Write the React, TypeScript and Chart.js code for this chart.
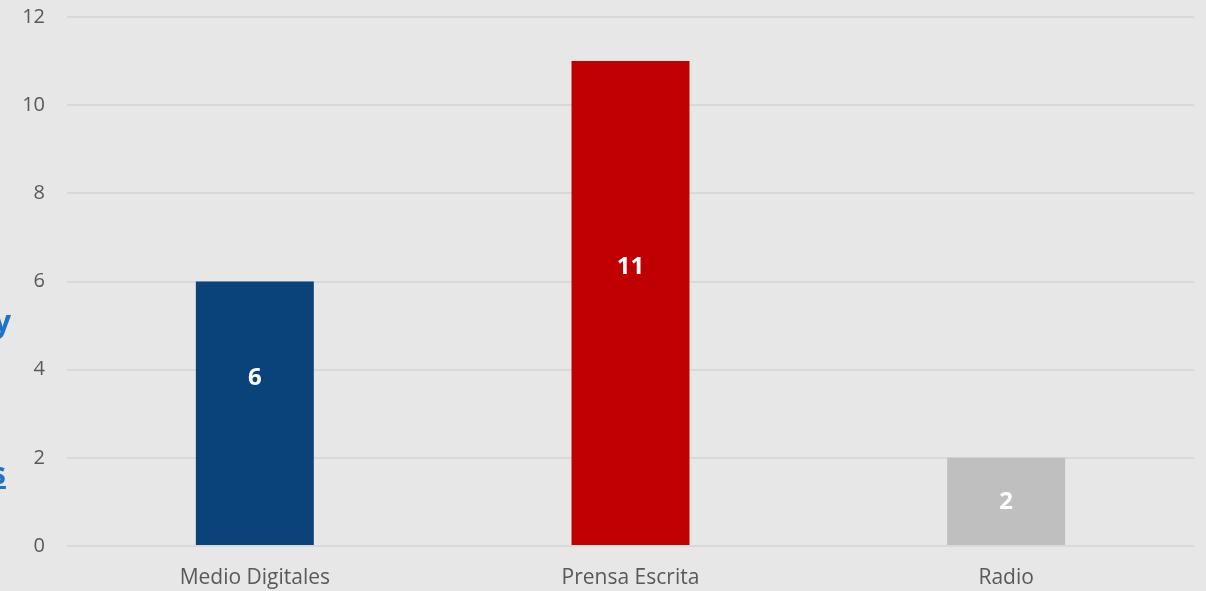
import React, { useEffect, useRef } from "react";
import { Chart, registerables } from "chart.js";

Chart.register(...registerables);

const categories = ["Medio Digitales", "Prensa Escrita", "Radio"];
const values = [6, 11, 2];
const barColors = ["#0a4379", "#c00000", "#bfbfbf"];
const labelAnchors = [3.8, 6.33, 1];
const yTicks = [0, 2, 4, 6, 8, 10, 12];

const FONT = "'Open Sans', 'Noto Sans', sans-serif";

const valueLabels = {
  id: "valueLabels",
  afterDatasetsDraw(chart: any) {
    const ctx = chart.ctx;
    const meta = chart.getDatasetMeta(0);
    const yScale = chart.scales.y;
    ctx.save();
    ctx.fillStyle = "#ffffff";
    ctx.font = `bold 24px ${FONT}`;
    ctx.textAlign = "center";
    ctx.textBaseline = "middle";
    meta.data.forEach((bar: any, i: number) => {
      ctx.fillText(String(values[i]), bar.x, yScale.getPixelForValue(labelAnchors[i]));
    });
    ctx.restore();
  },
};

export default function App() {
  const ref = useRef<HTMLCanvasElement>(null);
  useEffect(() => {
    document.body.style.margin = "0";
    document.body.style.background = "#e7e7e7";
    const chart = new Chart(ref.current!, {
      type: "bar",
      data: {
        labels: categories,
        datasets: [
          {
            data: values,
            backgroundColor: barColors,
            categoryPercentage: 1,
            barPercentage: 0.314,
          },
        ],
      },
      options: {
        animation: false,
        responsive: false,
        maintainAspectRatio: false,
        layout: { autoPadding: false, padding: { top: 17, right: 12, left: 0, bottom: 0 } },
        plugins: { legend: { display: false }, tooltip: { enabled: false } },
        scales: {
          x: {
            grid: { display: false, drawTicks: false },
            border: { display: false },
            ticks: { color: "#595959", font: { family: FONT, size: 21 }, padding: 19 },
            afterFit: (s: any) => { s.height = 45; s.paddingLeft = 0; s.paddingRight = 0; },
          },
          y: {
            min: 0,
            max: 12,
            afterBuildTicks: (s: any) => { s.ticks = yTicks.map((v) => ({ value: v })); },
            grid: { color: "#d9d9d9", lineWidth: 2, drawTicks: false },
            border: { display: false },
            ticks: { color: "#595959", font: { family: FONT, size: 20 }, padding: 22 },
            afterFit: (s: any) => { s.width = 67; s.paddingTop = 0; s.paddingBottom = 0; },
          },
        },
      },
      plugins: [valueLabels],
    });
    return () => chart.destroy();
  }, []);
  return (
    <div style={{ position: "absolute", left: 0, top: 0, width: 1206, height: 591, background: "#e7e7e7", overflow: "hidden" }}>
      <canvas ref={ref} width={1206} height={591} style={{ display: "block" }} />
      <span style={{ position: "absolute", left: -6, top: 300, color: "#1f73c6", font: `bold 30px ${FONT}` }}>y</span>
      <span style={{ position: "absolute", left: -9, top: 452, color: "#1f73c6", font: `bold 30px ${FONT}`, textDecoration: "underline" }}>s</span>
    </div>
  );
}
